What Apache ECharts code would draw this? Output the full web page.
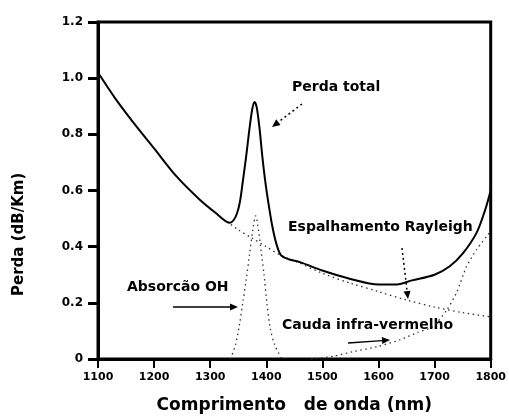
<!DOCTYPE html>
<html><head><meta charset="utf-8">
<script src="https://cdn.jsdelivr.net/npm/echarts@6/dist/echarts.min.js"></script>
<style>html,body{margin:0;padding:0;background:#fff}#c{width:509px;height:419px}</style>
</head><body><div id="c"></div>
<script>
// Perda total (solid)
const totalLambda = [1100,1130,1160,1200,1240,1280,1310,1335,1342,1348,1353,1358,1364,1370,1375,1379,1383,1388,1393,1399,1405,1411,1418,1426,1440,1460,1500,1550,1600,1630,1660,1700,1727,1750,1775,1790,1800];
const totalLoss   = [1.02,0.93,0.85,0.75,0.65,0.57,0.52,0.485,0.495,0.52,0.56,0.63,0.72,0.82,0.89,0.915,0.895,0.82,0.72,0.62,0.54,0.47,0.41,0.37,0.355,0.345,0.315,0.285,0.265,0.265,0.28,0.30,0.33,0.375,0.45,0.53,0.60];
// Espalhamento Rayleigh (dotted)
const rayLambda = [1330,1350,1375,1400,1425,1450,1500,1550,1600,1650,1700,1750,1800];
const rayLoss   = [0.49,0.46,0.43,0.40,0.37,0.35,0.305,0.27,0.24,0.21,0.185,0.165,0.15];
// Absorcao OH (dotted)
const ohLambda = [1336,1345,1352,1358,1364,1370,1376,1381,1386,1391,1396,1401,1407,1415,1428];
const ohLoss   = [0.0,0.05,0.12,0.2,0.28,0.37,0.46,0.51,0.46,0.38,0.30,0.20,0.11,0.05,0.0];
// Cauda infra-vermelho (dotted)
const irLambda = [1480,1520,1554,1600,1638,1670,1697,1722,1740,1757,1775,1798];
const irLoss   = [0.0,0.01,0.026,0.045,0.068,0.095,0.115,0.175,0.24,0.33,0.39,0.45];
// axis ticks
const xMin = 1100, xMax = 1800, xStep = 100;
const yMin = 0, yMax = 1.2, yStep = 0.2;

const zip = (a, b) => a.map((v, i) => [v, b[i]]);
const chart = echarts.init(document.getElementById('c'), null, {renderer: 'canvas'});

function arrow(x1, y1, x2, y2, dash) {
  const a = Math.atan2(y2 - y1, x2 - x1), L = 8, W = 3.5;
  const bx = x2 - L * Math.cos(a), by = y2 - L * Math.sin(a);
  return [
    {type: 'line', shape: {x1, y1, x2: bx, y2: by},
     style: {stroke: '#000', lineWidth: dash ? 1.5 : 1.3, lineDash: dash ? [2, 3] : null}},
    {type: 'polygon', shape: {points: [[x2, y2],
      [bx + W * Math.sin(a), by - W * Math.cos(a)],
      [bx - W * Math.sin(a), by + W * Math.cos(a)]]}, style: {fill: '#000'}}
  ];
}
function label(text, x, y, size) {
  return {type: 'text', left: x, top: y, style: {text, fill: '#000',
    font: 'bold ' + (size || 14) + 'px "DejaVu Sans"'}};
}
const dotted = {color: '#333', width: 1.3, type: [1.5, 3.5]};

chart.setOption({
  animation: false,
  backgroundColor: '#fff',
  grid: {left: 98, right: 18, top: 22, bottom: 60, show: true, borderColor: '#000', borderWidth: 3},
  xAxis: {
    type: 'value', min: xMin, max: xMax, interval: xStep,
    name: 'Comprimento   de onda (nm)', nameLocation: 'middle', nameGap: 38,
    nameTextStyle: {fontFamily: 'DejaVu Sans', fontSize: 17, color: '#000', fontWeight: 'bold'},
    axisLine: {lineStyle: {color: '#000', width: 3}},
    axisTick: {length: 9, lineStyle: {color: '#000', width: 2}},
    axisLabel: {color: '#000', fontFamily: 'DejaVu Sans', fontWeight: 'bold', fontSize: 11, margin: 13,
      formatter: v => String(v)},
    splitLine: {show: false}
  },
  yAxis: {
    type: 'value', min: yMin, max: yMax, interval: yStep,
    axisLine: {lineStyle: {color: '#000', width: 3}},
    axisTick: {length: 10, lineStyle: {color: '#000', width: 3}},
    axisLabel: {color: '#000', fontFamily: 'DejaVu Sans', fontWeight: 'bold', fontSize: 12, margin: 15,
      formatter: v => v === 0 ? '0' : v.toFixed(1)},
    splitLine: {show: false}
  },
  series: [
    {type: 'line', data: zip(rayLambda, rayLoss), smooth: 0.3, symbol: 'none', lineStyle: dotted, z: 2},
    {type: 'line', data: zip(ohLambda, ohLoss), smooth: 0.3, symbol: 'none', lineStyle: dotted, z: 2},
    {type: 'line', data: zip(irLambda, irLoss), smooth: 0.2, symbol: 'none', lineStyle: dotted, z: 2},
    {type: 'line', data: zip(totalLambda, totalLoss), smooth: 0.3, symbol: 'none',
     lineStyle: {color: '#000', width: 2}, z: 3}
  ],
  graphic: [
    {type: 'text', x: 12, y: 296, rotation: Math.PI / 2,
     style: {text: 'Perda (dB/Km)', fill: '#000', font: 'bold 15px "DejaVu Sans"'}},
    label('Perda total', 292, 80),
    label('Espalhamento Rayleigh', 288, 220, 14),
    label('Absorcão OH', 127, 280),
    label('Cauda infra-vermelho', 282, 318),
    ...arrow(302, 104, 272, 127, true),
    ...arrow(402, 248, 408, 299, true),
    ...arrow(173, 307, 238, 307, false),
    ...arrow(348, 343, 390, 340, false)
  ]
});
</script></body></html>
